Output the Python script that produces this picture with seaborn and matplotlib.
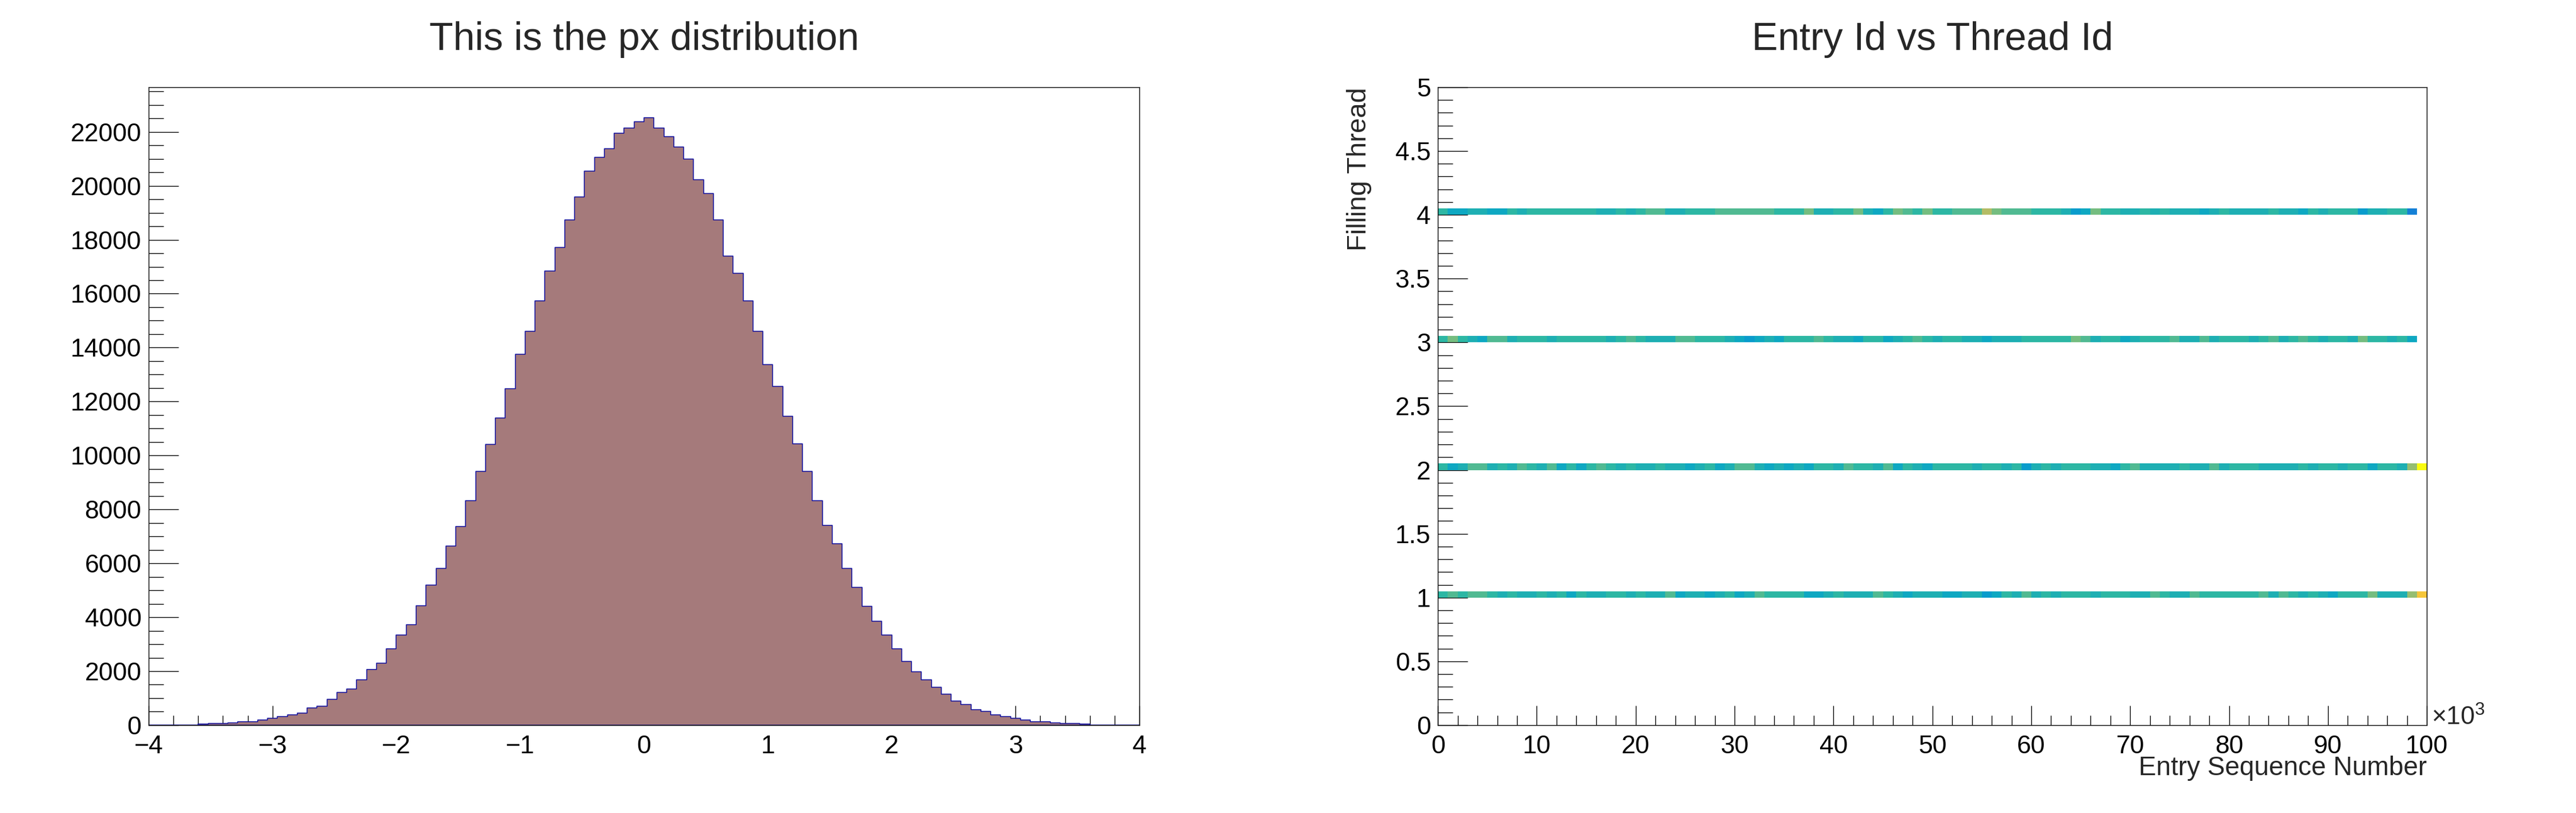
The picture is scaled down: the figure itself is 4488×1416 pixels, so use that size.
import numpy as np
import matplotlib
matplotlib.use("Agg")
import matplotlib.pyplot as plt
from matplotlib.colors import LinearSegmentedColormap, ListedColormap
from matplotlib.ticker import MultipleLocator, FuncFormatter
import seaborn as sns

# ------------------------------------------------------------
# data
# ------------------------------------------------------------
# px histogram: 100 bins on [-4, 4]
px_range = (-4.0, 4.0)
px_nbins = 100
px_counts = [
    0, 0, 0, 0, 0, 45, 55, 70, 90, 125,
    135, 192, 256, 320, 384, 449, 641, 705, 961, 1218,
    1346, 1673, 2058, 2307, 2820, 3332, 3717, 4422, 5190, 5817,
    6647, 7355, 8315, 9403, 10420, 11380, 12480, 13758, 14598, 15735,
    16836, 17723, 18741, 19581, 20551, 21048, 21379, 21948, 22149, 22386,
    22529, 22149, 21829, 21439, 20989, 20232, 19711, 18741, 17403, 16763,
    15735, 14598, 13368, 12551, 11451, 10433, 9403, 8315, 7415, 6717,
    5817, 5119, 4415, 3845, 3332, 2820, 2371, 1986, 1673, 1410,
    1153, 897, 769, 577, 513, 384, 320, 256, 192, 135,
    125, 90, 70, 55, 45, 0, 0, 0, 0, 0,
]

# entry id vs thread id: 100 bins of 1000 entries, counts per thread
entry_range = (0, 100000)
thread_range = (0.0, 5.0)
entry_nbins = 100
thread_nbins = 100
thread_ids = [1, 2, 3, 4]
thread1 = [
    247, 273, 247, 273, 273, 247, 221, 247, 221, 221,
    247, 221, 247, 195, 247, 221, 221, 247, 247, 221,
    247, 221, 221, 273, 195, 221, 221, 195, 221, 247,
    195, 221, 273, 247, 247, 247, 247, 195, 195, 221,
    247, 221, 221, 221, 273, 247, 221, 195, 221, 221,
    221, 195, 195, 221, 221, 169, 195, 247, 221, 273,
    221, 247, 221, 247, 247, 247, 221, 247, 247, 247,
    221, 221, 273, 247, 221, 221, 273, 247, 247, 247,
    247, 247, 247, 273, 221, 273, 247, 221, 247, 221,
    195, 247, 247, 247, 299, 221, 221, 221, 325, 429,
]
thread2 = [
    247, 195, 221, 273, 273, 221, 247, 221, 273, 247,
    221, 273, 195, 247, 195, 247, 273, 247, 221, 247,
    221, 221, 247, 221, 221, 195, 221, 247, 195, 221,
    273, 273, 221, 195, 221, 195, 221, 195, 247, 247,
    221, 273, 247, 247, 221, 273, 195, 247, 221, 195,
    247, 247, 247, 247, 221, 247, 247, 221, 247, 169,
    221, 247, 221, 247, 247, 247, 221, 221, 195, 247,
    273, 221, 221, 221, 221, 247, 221, 221, 273, 221,
    247, 247, 247, 221, 221, 221, 221, 247, 221, 247,
    247, 221, 247, 247, 195, 247, 247, 221, 325, 520,
]
thread3 = [
    247, 299, 247, 221, 195, 273, 273, 221, 247, 247,
    247, 221, 247, 247, 247, 247, 247, 221, 247, 273,
    247, 221, 221, 221, 273, 273, 247, 247, 247, 221,
    195, 169, 195, 221, 195, 247, 247, 247, 273, 247,
    221, 221, 195, 247, 247, 195, 221, 247, 273, 247,
    221, 247, 247, 221, 221, 195, 221, 221, 221, 247,
    247, 247, 247, 247, 299, 273, 221, 247, 247, 195,
    221, 247, 247, 247, 273, 221, 221, 273, 221, 247,
    247, 247, 221, 247, 273, 221, 247, 273, 247, 221,
    247, 247, 221, 299, 247, 247, 221, 247, 195, 0,
]
thread4 = [
    247, 195, 195, 221, 221, 195, 195, 247, 221, 247,
    247, 247, 247, 247, 247, 247, 221, 221, 247, 221,
    247, 273, 273, 221, 221, 247, 247, 247, 273, 273,
    273, 273, 273, 273, 247, 247, 247, 299, 221, 221,
    247, 247, 299, 221, 195, 247, 299, 273, 247, 299,
    247, 247, 273, 273, 273, 351, 299, 273, 273, 273,
    247, 247, 247, 221, 169, 195, 299, 247, 247, 221,
    221, 247, 221, 247, 221, 221, 221, 195, 221, 247,
    221, 221, 221, 221, 247, 221, 221, 195, 247, 221,
    247, 247, 247, 169, 221, 221, 247, 247, 117, 0,
]

# ------------------------------------------------------------
# style (ROOT-like look)
# ------------------------------------------------------------
sns.set_style("white")
plt.rcParams["font.family"] = ["Liberation Sans", "DejaVu Sans"]
plt.rcParams["mathtext.fontset"] = "custom"
plt.rcParams["mathtext.rm"] = "Liberation Sans"
plt.rcParams["mathtext.default"] = "regular"
plt.rcParams["axes.edgecolor"] = "black"
plt.rcParams["axes.linewidth"] = 1.0

TICK_FS = 32
TITLE_FS = 49
LABEL_FS = 33

# ROOT kBird palette, 20 contour levels
bird_stops = [0.0, 0.125, 0.25, 0.375, 0.5, 0.625, 0.75, 0.875, 1.0]
bird_r = [0.2082, 0.0592, 0.0780, 0.0232, 0.1802, 0.5301, 0.8186, 0.9956, 0.9764]
bird_g = [0.1664, 0.3599, 0.5041, 0.6419, 0.7178, 0.7492, 0.7328, 0.7862, 0.9832]
bird_b = [0.5293, 0.8684, 0.8385, 0.7914, 0.6425, 0.4662, 0.3499, 0.1968, 0.0539]
bird = LinearSegmentedColormap.from_list(
    "kbird", list(zip(bird_stops, zip(bird_r, bird_g, bird_b)))
)
n_levels = 20
bird20 = ListedColormap([bird((i + 0.99) / n_levels) for i in range(n_levels)])


def root_ticks(ax, xlen, ylen):
    ax.tick_params(axis="both", which="both", direction="in",
                   bottom=True, left=True, top=False, right=False,
                   width=1.0, color="black", labelcolor="black",
                   labelsize=TICK_FS)
    ax.tick_params(axis="x", which="major", length=xlen, pad=12)
    ax.tick_params(axis="x", which="minor", length=xlen / 2)
    ax.tick_params(axis="y", which="major", length=ylen, pad=9)
    ax.tick_params(axis="y", which="minor", length=ylen / 2)
    for s in ax.spines.values():
        s.set_visible(True)
        s.set_color("black")
        s.set_linewidth(1.0)


fig = plt.figure(figsize=(44.88, 14.16), dpi=100)
ax1 = fig.add_axes([0.0577, 0.1081, 0.3846, 0.7846])
ax2 = fig.add_axes([0.5582, 0.1081, 0.3839, 0.7846])

# ------------------------------------------------------------
# left: px distribution
# ------------------------------------------------------------
px_edges = np.linspace(px_range[0], px_range[1], px_nbins + 1)
px_centers = 0.5 * (px_edges[:-1] + px_edges[1:])
sns.histplot(x=px_centers, weights=px_counts, bins=px_nbins, binrange=px_range,
             element="step", fill=True, alpha=1.0,
             facecolor="#a57a7b", edgecolor="#0b0b9e", linewidth=1.1, ax=ax1)
ax1.set_xlim(*px_range)
ax1.set_ylim(0, 1.05 * max(px_counts))
ax1.xaxis.set_major_locator(MultipleLocator(1))
ax1.xaxis.set_minor_locator(MultipleLocator(0.2))
ax1.yaxis.set_major_locator(MultipleLocator(2000))
ax1.yaxis.set_minor_locator(MultipleLocator(500))
ax1.set_xlabel("")
ax1.set_ylabel("")
root_ticks(ax1, 24.5, 37.5)
ax1.set_title("This is the px distribution", fontsize=TITLE_FS, pad=47)

# ------------------------------------------------------------
# right: entry id vs thread id
# ------------------------------------------------------------
entry_edges = np.linspace(entry_range[0], entry_range[1], entry_nbins + 1)
entry_centers = 0.5 * (entry_edges[:-1] + entry_edges[1:])
half_bin = 0.5 * (thread_range[1] - thread_range[0]) / thread_nbins
xs, ys, ws = [], [], []
for tid, row in zip(thread_ids, [thread1, thread2, thread3, thread4]):
    xs.extend(entry_centers)
    ys.extend([tid + half_bin] * len(row))
    ws.extend(row)
zmax = max(max(thread1), max(thread2), max(thread3), max(thread4))

sns.histplot(x=xs, y=ys, weights=ws, bins=(entry_nbins, thread_nbins),
             binrange=(entry_range, thread_range), cmap=bird20, vmax=zmax,
             ax=ax2)
ax2.set_xlim(*entry_range)
ax2.set_ylim(*thread_range)
ax2.xaxis.set_major_locator(MultipleLocator(10000))
ax2.xaxis.set_minor_locator(MultipleLocator(2000))
ax2.xaxis.set_major_formatter(FuncFormatter(lambda v, p: f"{v / 1000:g}"))
ax2.yaxis.set_major_locator(MultipleLocator(0.5))
ax2.yaxis.set_minor_locator(MultipleLocator(0.1))
ax2.yaxis.set_major_formatter(FuncFormatter(lambda v, p: f"{v:g}"))
root_ticks(ax2, 24.5, 37.5)
ax2.set_title("Entry Id vs Thread Id", fontsize=TITLE_FS, pad=47)
ax2.set_xlabel("Entry Sequence Number", fontsize=LABEL_FS, loc="right")
ax2.xaxis.set_label_coords(1.0, -0.048)
ax2.set_ylabel("Filling Thread", fontsize=LABEL_FS + 1, loc="top")
ax2.yaxis.set_label_coords(-0.067, 1.0)
ax2.text(1.0045, 0.0, r"×10$^{3}$", transform=ax2.transAxes, ha="left",
         va="baseline", fontsize=TICK_FS)

fig.savefig("out.png", dpi=100)
